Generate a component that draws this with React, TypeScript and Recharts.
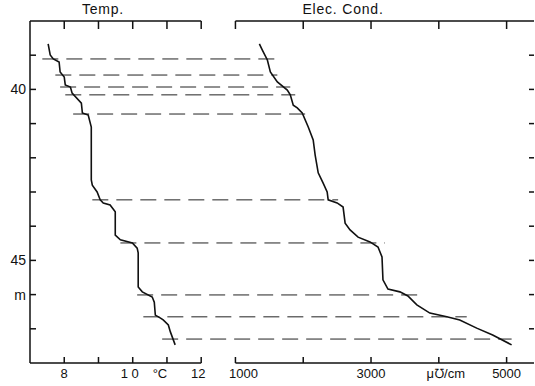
import { ComposedChart, Line, XAxis, YAxis, ReferenceLine } from 'recharts';

// temperature profile (depth m, °C)
const tempDepths = [38.67, 38.99, 39.11, 39.2, 39.49, 39.64, 39.87, 39.93, 40.11, 40.4, 40.69, 40.75, 41.1, 42.65, 42.8, 43.0, 43.23, 43.32, 43.38, 43.58, 44.26, 44.4, 44.49, 44.64, 44.78, 45.78, 45.92, 46.07, 46.22, 46.6, 46.68, 46.74, 46.89, 47.09, 47.47];
const tempValues = [7.53, 7.59, 7.68, 7.85, 7.88, 8.0, 8.03, 8.18, 8.23, 8.5, 8.53, 8.7, 8.79, 8.79, 8.82, 8.96, 9.05, 9.14, 9.34, 9.49, 9.49, 9.64, 9.99, 10.13, 10.16, 10.16, 10.28, 10.57, 10.63, 10.66, 10.8, 10.89, 11.04, 11.1, 11.24];

// electric conductivity profile (depth m, µS/cm)
const condDepths = [38.67, 38.85, 39.14, 39.49, 39.78, 40.02, 40.16, 40.46, 40.54, 40.69, 41.1, 41.48, 41.92, 42.44, 42.74, 43.0, 43.23, 43.32, 43.44, 43.91, 44.11, 44.32, 44.46, 44.61, 44.9, 45.57, 45.84, 45.92, 46.04, 46.3, 46.54, 46.65, 46.74, 46.98, 47.18, 47.47];
const condValues = [1353, 1397, 1471, 1515, 1618, 1765, 1809, 1853, 1912, 1985, 2074, 2147, 2176, 2221, 2294, 2353, 2368, 2500, 2588, 2618, 2691, 2809, 2985, 3103, 3162, 3176, 3250, 3426, 3544, 3676, 3868, 4118, 4309, 4559, 4794, 5074];

// layer boundaries (dashed lines): depth, start on temp panel, end on cond panel
const layerDepths = [39.11, 39.58, 39.93, 40.16, 40.72, 43.23, 44.49, 46.01, 46.65, 47.3];
const layerTempStart = [7.36, 7.74, 7.88, 8.03, 8.26, 8.82, 9.64, 10.13, 10.31, 10.86];
const layerCondEnd = [1588, 1618, 1809, 1882, 2074, 2515, 3206, 3691, 4412, 5074];

const tempTicks = [8, 9, 10, 11, 12];
const tempTickLabels = ['8', '', '1 0', '°C', '12'];
const condTicks = [1000, 2000, 3000, 4000, 5000];
const condTickLabels = ['1000', '', '3000', 'μ℧/cm', '5000'];
const depthTicks = [39, 40, 41, 42, 43, 44, 45, 46, 47];
const depthTickLabels = ['', '40', '', '', '', '', '45', 'm', ''];

// both panels share one horizontal axis: temp 7..12, then cond starting at 13
const condToU = (c: number) => 13 + (c - 1000) * 0.00198;
const U_MAX = 21.72;

const tempData = tempDepths.map((d, i) => ({ u: tempValues[i], d }));
const condData = condDepths.map((d, i) => ({ u: condToU(condValues[i]), d }));
const layers = layerDepths.map((d, i) => [
  { u: layerTempStart[i], d },
  { u: condToU(layerCondEnd[i]), d },
]);

const xTicks = [...tempTicks, ...condTicks.map(condToU)];
const xLabels = [...tempTickLabels, ...condTickLabels];
const xLabelShift: Record<string, number> = { '1000': 8, '°C': -7, '1 0': -3, '12': -3, 'μ℧/cm': 7 };

const INK = '#111';
const FONT = '"Liberation Sans", Arial, sans-serif';

const BottomTick = (props: any) => {
  const { x, y, index } = props;
  const label = xLabels[index] || '';
  return (
    <g>
      <line x1={x} y1={y} x2={x} y2={y - 6} stroke={INK} strokeWidth={1.5} />
      <text x={x + (xLabelShift[label] || 0)} y={y + 15} textAnchor="middle" fontSize={13} fontFamily={FONT} fill={INK}>
        {label}
      </text>
    </g>
  );
};

const TopTick = (props: any) => {
  const { x, y } = props;
  return <line x1={x} y1={y} x2={x} y2={y + 8} stroke={INK} strokeWidth={1.5} />;
};

const LeftTick = (props: any) => {
  const { x, y, index } = props;
  return (
    <g>
      <line x1={x} y1={y} x2={x + 6} y2={y} stroke={INK} strokeWidth={1.5} />
      <text x={x - 4} y={y + 5} textAnchor="end" fontSize={14} fontFamily={FONT} fill={INK}>
        {depthTickLabels[index]}
      </text>
    </g>
  );
};

const RightTick = (props: any) => {
  const { x, y } = props;
  return <line x1={x - 5} y1={y} x2={x} y2={y} stroke={INK} strokeWidth={1.5} />;
};

export default function App() {
  return (
    <div style={{ position: 'absolute', left: 0, top: 0, width: 535, height: 386, background: '#fff' }}>
      <ComposedChart width={535} height={386} margin={{ top: 0, right: 0, bottom: 0, left: 0 }}>
        <XAxis xAxisId="t" orientation="top" dataKey="u" type="number" domain={[7, U_MAX]} ticks={xTicks}
          height={21} axisLine={false} tickLine={false} tickSize={0} tickMargin={0} tick={<TopTick />} allowDataOverflow />
        <XAxis xAxisId="b" orientation="bottom" dataKey="u" type="number" domain={[7, U_MAX]} ticks={xTicks}
          height={23} axisLine={false} tickLine={false} tickSize={0} tickMargin={0} tick={<BottomTick />} allowDataOverflow />
        <YAxis yAxisId="l" orientation="left" type="number" domain={[38, 48]} reversed ticks={depthTicks}
          width={30} axisLine={{ stroke: INK, strokeWidth: 1.5 }} tickLine={false} tickSize={0} tickMargin={0} tick={<LeftTick />} allowDataOverflow />
        <YAxis yAxisId="r" orientation="right" type="number" domain={[38, 48]} reversed ticks={depthTicks}
          width={1} axisLine={false} tickLine={false} tickSize={0} tickMargin={0} tick={<RightTick />} allowDataOverflow />

        {/* broken frame lines */}
        <ReferenceLine xAxisId="t" yAxisId="l" segment={[{ x: 7, y: 38 }, { x: 12, y: 38 }]} stroke={INK} strokeWidth={1.5} />
        <ReferenceLine xAxisId="t" yAxisId="l" segment={[{ x: 13, y: 38 }, { x: U_MAX, y: 38 }]} stroke={INK} strokeWidth={1.5} />
        <ReferenceLine xAxisId="b" yAxisId="l" segment={[{ x: 7, y: 48 }, { x: 12, y: 48 }]} stroke={INK} strokeWidth={1.5} />
        <ReferenceLine xAxisId="b" yAxisId="l" segment={[{ x: 13, y: 48 }, { x: U_MAX, y: 48 }]} stroke={INK} strokeWidth={1.5} />

        {layers.map((seg, i) => (
          <Line key={`layer-${i}`} xAxisId="t" yAxisId="r" data={seg} dataKey="d" stroke="#222" strokeWidth={1}
            strokeDasharray="16 8" dot={false} activeDot={false} isAnimationActive={false} />
        ))}
        <Line xAxisId="b" yAxisId="l" data={tempData} dataKey="d" type="linear" stroke={INK} strokeWidth={1.6}
          dot={false} activeDot={false} isAnimationActive={false} />
        <Line xAxisId="b" yAxisId="l" data={condData} dataKey="d" type="linear" stroke={INK} strokeWidth={1.6}
          dot={false} activeDot={false} isAnimationActive={false} />
      </ComposedChart>
      <svg width={535} height={386} style={{ position: 'absolute', left: 0, top: 0, pointerEvents: 'none' }}>
        <text x={103} y={14} textAnchor="middle" fontSize={14} fontFamily={FONT} letterSpacing={0.8} fill={INK}>Temp.</text>
        <text x={343} y={14} textAnchor="middle" fontSize={14} fontFamily={FONT} letterSpacing={0.8} fill={INK}>Elec. Cond.</text>
      </svg>
    </div>
  );
}
